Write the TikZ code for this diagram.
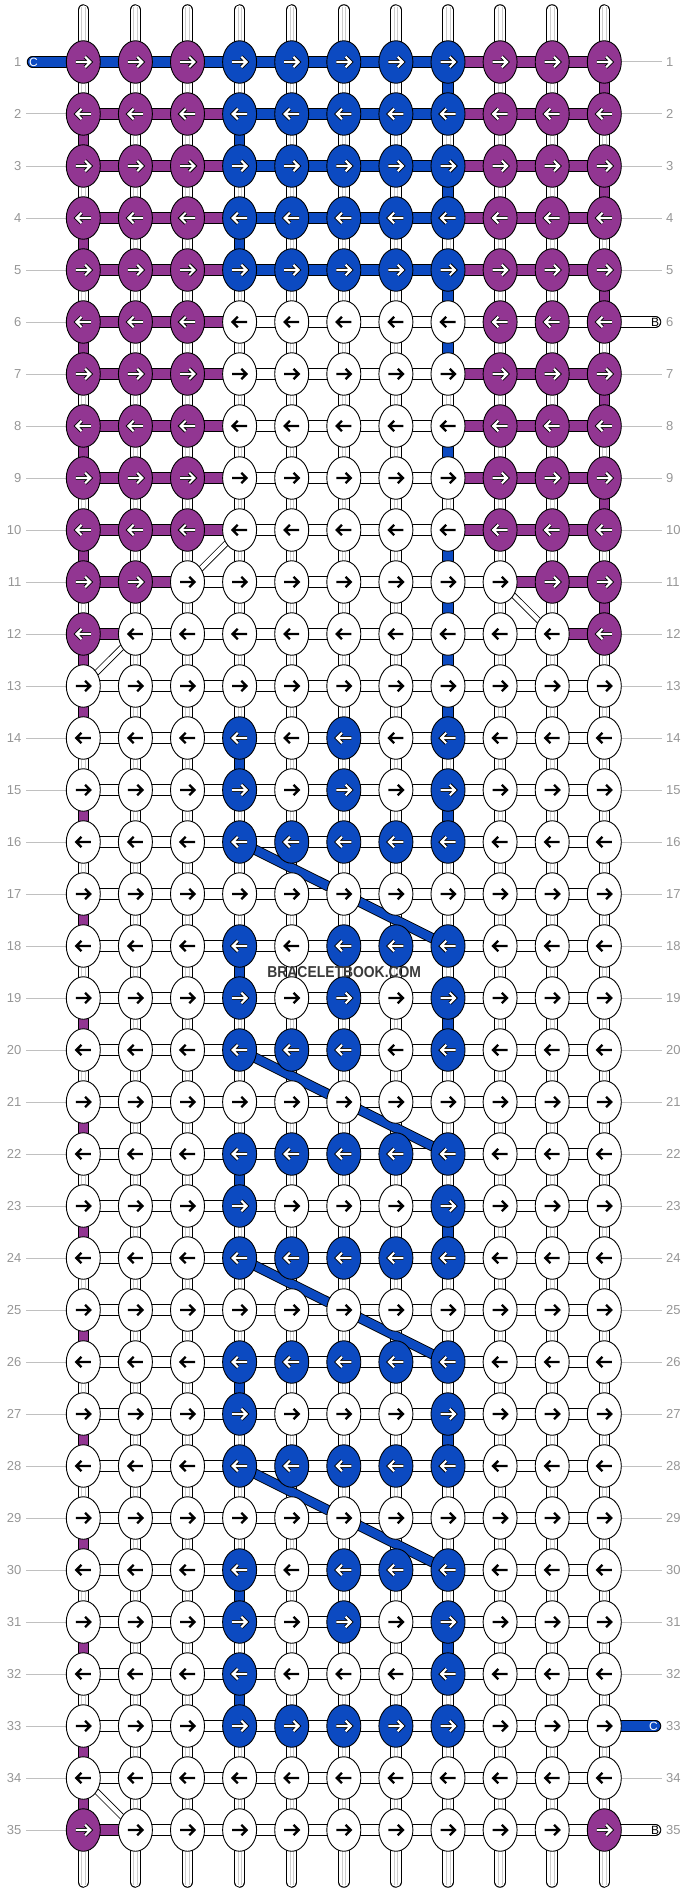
\documentclass[tikz,border=0pt]{standalone}
\usepackage{fontspec}
\setmainfont{Liberation Sans}
\usetikzlibrary{shapes.geometric}
\definecolor{cP}{RGB}{146,54,146}
\definecolor{cB}{RGB}{12,74,193}
\definecolor{cW}{RGB}{255,255,255}
\definecolor{lblgrey}{RGB}{150,150,150}
\definecolor{linegrey}{RGB}{192,192,192}
\definecolor{innergrey}{RGB}{205,205,205}
\definecolor{wmgrey}{RGB}{58,58,58}
\pgfdeclarelayer{seglayer}
\pgfdeclarelayer{diaglayer}
\pgfsetlayers{seglayer,diaglayer,main}
\tikzset{
  knot/.style={ellipse, draw=black, line width=0.9pt, minimum width=34pt, minimum height=42.5pt, inner sep=0pt, outer sep=0pt},
  strand/.style={double=#1, double distance=9.5pt, line width=1pt},
  innerln/.style={innergrey, line width=0.6pt},
  lbl/.style={text=lblgrey, inner sep=0pt, font=\fontsize{13}{15}\selectfont},
  lblline/.style={linegrey, line width=1pt},
  wdiag/.style={double=white, double distance=4.4pt, line width=0.8pt},
  bdiag/.style={double=cB, double distance=8.5pt, line width=0.9pt},
  stubtxt/.style={inner sep=0pt, font=\fontsize{12}{12}\selectfont},
}
\begin{document}
\begin{tikzpicture}[x=1pt,y=-1pt]
\useasboundingbox (0,0) rectangle (688,1892);
% ---------- knots ----------
\foreach \ro/\cols in {
 1/{P,P,P,B,B,B,B,B,P,P,P},
 2/{P,P,P,B,B,B,B,B,P,P,P},
 3/{P,P,P,B,B,B,B,B,P,P,P},
 4/{P,P,P,B,B,B,B,B,P,P,P},
 5/{P,P,P,B,B,B,B,B,P,P,P},
 6/{P,P,P,W,W,W,W,W,P,P,P},
 7/{P,P,P,W,W,W,W,W,P,P,P},
 8/{P,P,P,W,W,W,W,W,P,P,P},
 9/{P,P,P,W,W,W,W,W,P,P,P},
 10/{P,P,P,W,W,W,W,W,P,P,P},
 11/{P,P,W,W,W,W,W,W,W,P,P},
 12/{P,W,W,W,W,W,W,W,W,W,P},
 13/{W,W,W,W,W,W,W,W,W,W,W},
 14/{W,W,W,B,W,B,W,B,W,W,W},
 15/{W,W,W,B,W,B,W,B,W,W,W},
 16/{W,W,W,B,B,B,B,B,W,W,W},
 17/{W,W,W,W,W,W,W,W,W,W,W},
 18/{W,W,W,B,W,B,B,B,W,W,W},
 19/{W,W,W,B,W,B,W,B,W,W,W},
 20/{W,W,W,B,B,B,W,B,W,W,W},
 21/{W,W,W,W,W,W,W,W,W,W,W},
 22/{W,W,W,B,B,B,B,B,W,W,W},
 23/{W,W,W,B,W,W,W,B,W,W,W},
 24/{W,W,W,B,B,B,B,B,W,W,W},
 25/{W,W,W,W,W,W,W,W,W,W,W},
 26/{W,W,W,B,B,B,B,B,W,W,W},
 27/{W,W,W,B,W,W,W,B,W,W,W},
 28/{W,W,W,B,B,B,B,B,W,W,W},
 29/{W,W,W,W,W,W,W,W,W,W,W},
 30/{W,W,W,B,W,B,B,B,W,W,W},
 31/{W,W,W,B,W,B,W,B,W,W,W},
 32/{W,W,W,B,W,W,W,B,W,W,W},
 33/{W,W,W,B,B,B,B,B,W,W,W},
 34/{W,W,W,W,W,W,W,W,W,W,W},
 35/{P,W,W,W,W,W,W,W,W,W,P}}{
  \foreach \k [count=\co] in \cols {
    \node[knot, fill=c\k] (k-\ro-\co) at ({83.3+52.1*(\co-1)},{62+52*(\ro-1)}) {};
    \ifodd\ro\relax \def\sg{1}\else\def\sg{-1}\fi
    \if W\k
      \draw[shift={(k-\ro-\co.center)}, xscale=\sg, black, line width=2.3pt, line join=miter]
        (-7.5,0)--(5.5,0) (1.8,-5.2)--(7,0)--(1.8,5.2);
    \else
      \draw[shift={(k-\ro-\co.center)}, xscale=\sg, black, line width=3.9pt, line join=miter]
        (-7.5,0)--(5.5,0) (1.8,-5.2)--(7,0)--(1.8,5.2);
      \draw[shift={(k-\ro-\co.center)}, xscale=\sg, white, line width=2.1pt, line join=miter]
        (-7.5,0)--(5.5,0) (1.8,-5.2)--(7,0)--(1.8,5.2);
    \fi
  }
}
% ---------- strands ----------
\begin{pgfonlayer}{seglayer}
\foreach \ro in {1,...,35}{
  \foreach \co in {1,...,10}{
    \pgfmathtruncatemacro\nx{\co+1}
    \draw[strand=white] (k-\ro-\co.center) -- (k-\ro-\nx.center);
  }
}
\foreach \co in {1,...,11}{
  \foreach \ro in {1,...,34}{
    \pgfmathtruncatemacro\nx{\ro+1}
    \draw[strand=white] (k-\ro-\co.center) -- (k-\nx-\co.center);
    \draw[innerln] ([xshift=-1.8pt]k-\ro-\co.center) -- ([xshift=-1.8pt]k-\nx-\co.center)
                   ([xshift=1.8pt]k-\ro-\co.center) -- ([xshift=1.8pt]k-\nx-\co.center);
  }
  \coordinate (top-\co) at ({83.3+52.1*(\co-1)},10);
  \coordinate (bot-\co) at ({83.3+52.1*(\co-1)},1882);
  \draw[strand=white, line cap=round] (top-\co) -- (k-1-\co.center);
  \draw[strand=white, line cap=round] (k-35-\co.center) -- (bot-\co);
  \draw[innerln] ([xshift=-1.8pt,yshift=3pt]top-\co) -- ([xshift=-1.8pt]k-1-\co.center)
                 ([xshift=1.8pt,yshift=3pt]top-\co) -- ([xshift=1.8pt]k-1-\co.center);
  \draw[innerln] ([xshift=-1.8pt,yshift=-3pt]bot-\co) -- ([xshift=-1.8pt]k-35-\co.center)
                 ([xshift=1.8pt,yshift=-3pt]bot-\co) -- ([xshift=1.8pt]k-35-\co.center);
}
% coloured horizontal runs
\foreach \ro/\ca/\cb/\col in {1/1/8/cB, 1/8/11/cP,
  2/1/4/cP, 2/4/8/cB, 2/8/11/cP, 3/1/4/cP, 3/4/8/cB, 3/8/11/cP,
  4/1/4/cP, 4/4/8/cB, 4/8/11/cP, 5/1/4/cP, 5/4/8/cB, 5/8/11/cP,
  6/1/4/cP, 7/1/4/cP, 7/8/11/cP, 8/1/4/cP, 8/8/11/cP,
  9/1/4/cP, 9/8/11/cP, 10/1/4/cP, 10/8/11/cP,
  11/1/3/cP, 11/9/11/cP, 12/1/2/cP, 12/10/11/cP, 35/1/2/cP}{
  \draw[strand=\col] (k-\ro-\ca.center) -- (k-\ro-\cb.center);
}
% coloured vertical pieces
\foreach \co/\col/\rows in {1/cP/{2,4,6,8,10,12,13,15,17,19,21,23,25,27,29,31,33,34},
  11/cP/{1,3,5,7,9,11}, 4/cB/{2,4,14,18,22,26,30,32},
  8/cB/{1,3,5,6,8,10,11,12,13,15,19,23,27,31}}{
  \foreach \ro in \rows {
    \pgfmathtruncatemacro\nx{\ro+1}
    \draw[strand=\col] (k-\ro-\co.center) -- (k-\nx-\co.center);
  }
}
% side stubs
\coordinate (cL1) at (32.5,62);
\draw[strand=cB, line cap=round] (cL1) -- (k-1-1.center);
\coordinate (bR6) at (655.5,322);
\draw[strand=white, line cap=round] (k-6-11.center) -- (bR6);
\coordinate (cR33) at (655.5,1726);
\draw[strand=cB, line cap=round] (k-33-11.center) -- (cR33);
\coordinate (bR35) at (655.5,1830);
\draw[strand=white, line cap=round] (k-35-11.center) -- (bR35);
% label lines
\foreach \ro in {2,...,35}{
  \coordinate (lnL-\ro) at (26,{62+52*(\ro-1)});
  \draw[lblline] (lnL-\ro) -- (k-\ro-1.west);
}
\foreach \ro in {1,2,3,4,5,7,8,9,10,11,12,13,14,15,16,17,18,19,20,21,22,23,24,25,26,27,28,29,30,31,32,34}{
  \coordinate (lnR-\ro) at (662,{62+52*(\ro-1)});
  \draw[lblline] (k-\ro-11.east) -- (lnR-\ro);
}
\end{pgfonlayer}
% ---------- diagonal strands ----------
\begin{pgfonlayer}{diaglayer}
\draw[wdiag] (k-10-4.center) -- (k-11-3.center);
\draw[wdiag] (k-11-9.center) -- (k-12-10.center);
\draw[wdiag] (k-12-2.center) -- (k-13-1.center);
\draw[wdiag] (k-34-1.center) -- (k-35-2.center);
\foreach \ro in {16,20,24,28}{
  \pgfmathtruncatemacro\re{\ro+2}
  \draw[bdiag] (k-\ro-4.center) -- (k-\re-8.center);
}
\end{pgfonlayer}
% ---------- row numbers ----------
\foreach \ro in {1,...,35}{
  \node[lbl, anchor=east] (nL-\ro) at (21.5,{62+52*(\ro-1)}) {\ro};
  \node[lbl, anchor=west] (nR-\ro) at (666,{62+52*(\ro-1)}) {\ro};
}
% stub letters
\node[stubtxt, text=white] (tC1) at (33.5,62) {C};
\node[stubtxt, text=black] (tB6) at (655,322) {B};
\node[stubtxt, text=white] (tC33) at (653.5,1726) {C};
\node[stubtxt, text=black] (tB35) at (655,1830) {B};
% watermark
\node[inner sep=0pt, text=wmgrey, font=\bfseries\fontsize{15.8}{16}\selectfont] (wm) at (344.2,971.7) {\scalebox{0.88}[1]{BRACELETBOOK.COM}};
\end{tikzpicture}
\end{document}
